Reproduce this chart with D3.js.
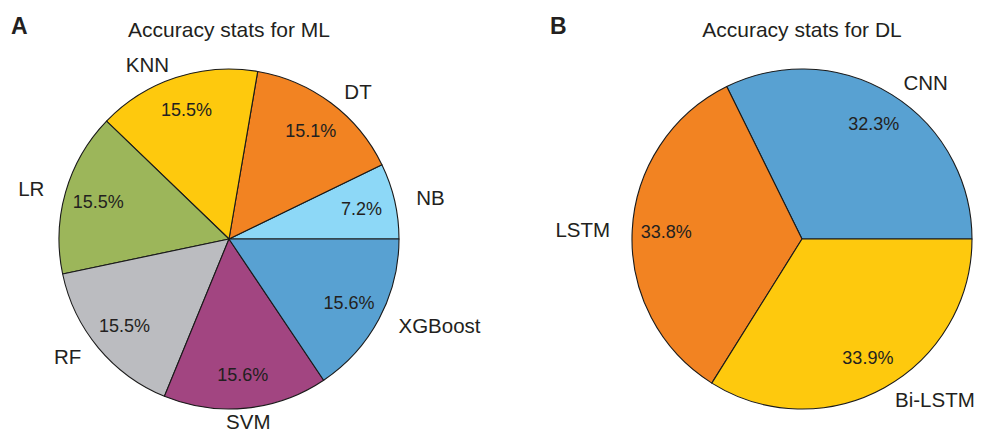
<!DOCTYPE html>
<html><head><meta charset="utf-8">
<script src="https://cdn.jsdelivr.net/npm/d3@7"></script>
<style>body{margin:0;background:#fff}svg{display:block}</style>
</head><body><svg id="c" width="982" height="437"></svg>
<script>
// ---- data ----
const mlCategories = ["NB", "DT", "KNN", "LR", "RF", "SVM", "XGBoost"];
const mlValues = [7.2, 15.1, 15.5, 15.5, 15.5, 15.6, 15.6];
const dlCategories = ["CNN", "LSTM", "Bi-LSTM"];
const dlValues = [32.3, 33.8, 33.9];
const panelTitles = ["Accuracy stats for ML", "Accuracy stats for DL"];
const panelLetters = ["A", "B"];

// ---- styles ----
const mlColors = ["#8dd8f7", "#f28322", "#fec90d", "#9cb65a", "#bbbcc0", "#a24581", "#58a1d2"];
const dlColors = ["#58a1d2", "#f28322", "#fec90d"];
const textColor = "#231f20";
const FONT = "'Liberation Sans', Arial, Helvetica, sans-serif";

const svg = d3.select("#c");
const R = 170;
const panels = [
  {cx: 229, cy: 239, cats: mlCategories, vals: mlValues, colors: mlColors, title: panelTitles[0], letter: panelLetters[0], lx: 11},
  {cx: 802, cy: 239, cats: dlCategories, vals: dlValues, colors: dlColors, title: panelTitles[1], letter: panelLetters[1], lx: 550}
];

// matplotlib-like: start at 3 o'clock, counter-clockwise
const pie = d3.pie().sort(null).value(d => d.v)
  .startAngle(Math.PI / 2).endAngle(Math.PI / 2 - 2 * Math.PI);
const arc = d3.arc().innerRadius(0).outerRadius(R);
const pctDist = 0.8, labDistX = 1.13, labDistY = 1.08;

panels.forEach(p => {
  const data = p.cats.map((c, i) => ({c, v: p.vals[i], col: p.colors[i]}));
  const g = svg.append("g").attr("transform", `translate(${p.cx},${p.cy})`);
  const arcs = pie(data);
  g.selectAll("path").data(arcs).join("path")
    .attr("d", arc)
    .attr("fill", d => d.data.col)
    .attr("stroke", "#1a1a1a")
    .attr("stroke-width", 1.1)
    .attr("stroke-linejoin", "round");

  const mid = d => (d.startAngle + d.endAngle) / 2;
  g.selectAll("text.pct").data(arcs).join("text")
    .attr("class", "pct")
    .attr("x", d => R * pctDist * Math.sin(mid(d)))
    .attr("y", d => -R * pctDist * Math.cos(mid(d)))
    .attr("dy", "0.35em")
    .attr("text-anchor", "middle")
    .attr("font-family", FONT).attr("font-size", 18).attr("fill", textColor)
    .text(d => d.data.v.toFixed(1) + "%");

  g.selectAll("text.lab").data(arcs).join("text")
    .attr("class", "lab")
    .attr("x", d => R * labDistX * Math.sin(mid(d)))
    .attr("y", d => -R * labDistY * Math.cos(mid(d)))
    .attr("dy", "0.35em")
    .attr("text-anchor", d => {
      const s = Math.sin(mid(d));
      return Math.abs(s) < 0.15 ? "middle" : (s > 0 ? "start" : "end");
    })
    .attr("font-family", FONT).attr("font-size", 20.5).attr("fill", textColor)
    .text(d => d.data.c);

  svg.append("text")
    .attr("x", p.cx).attr("y", 37)
    .attr("text-anchor", "middle")
    .attr("font-family", FONT).attr("font-size", 21).attr("fill", textColor)
    .text(p.title);

  svg.append("text")
    .attr("x", p.lx).attr("y", 34)
    .attr("font-family", FONT).attr("font-size", 23).attr("font-weight", "bold").attr("fill", textColor)
    .text(p.letter);
});
</script>
</body></html>
